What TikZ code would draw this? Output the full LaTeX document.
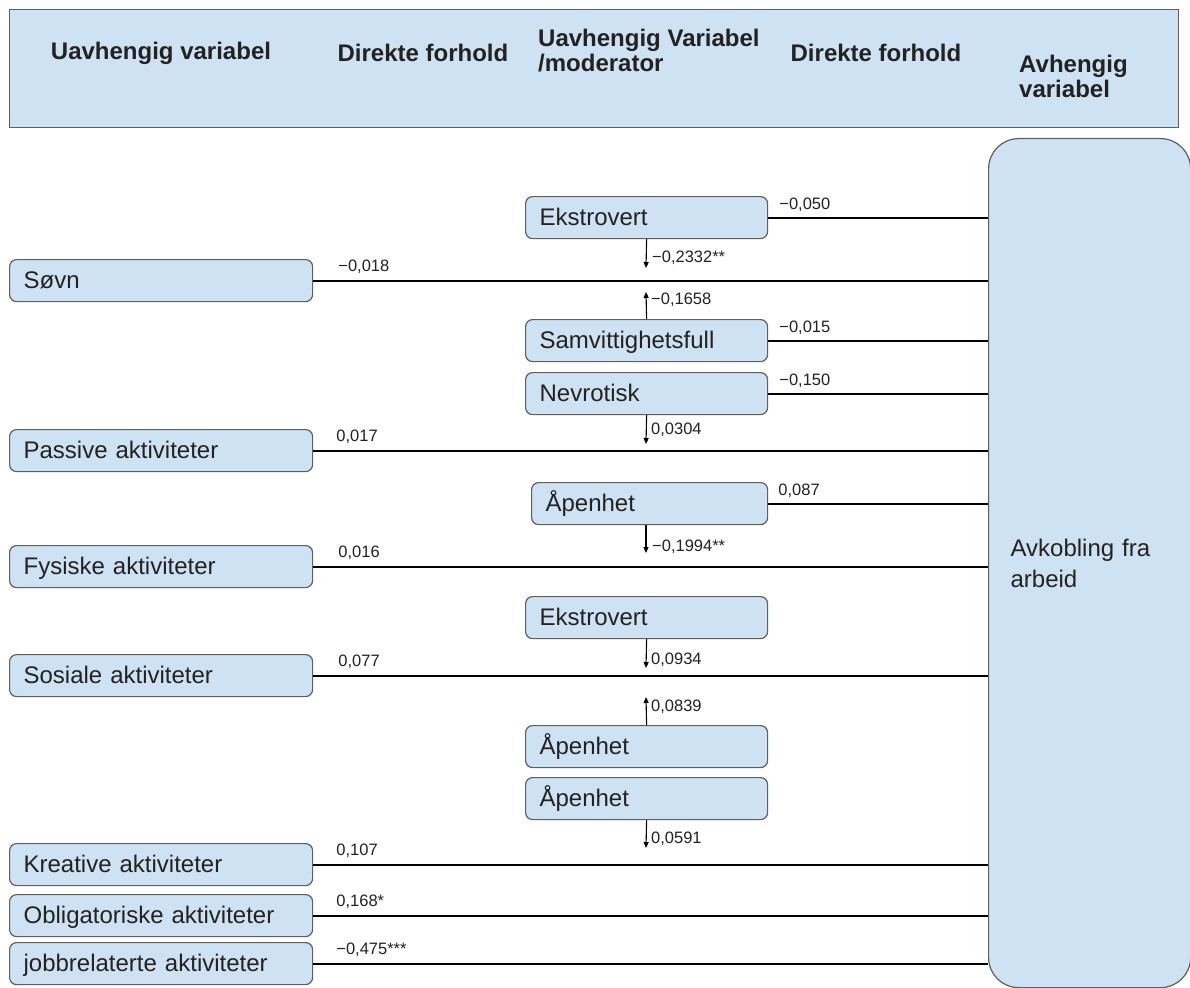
\documentclass[tikz,border=0pt]{standalone}
\usepackage{fontspec}
\setmainfont{Liberation Sans}
\usetikzlibrary{arrows.meta,calc}
\definecolor{boxblue}{HTML}{CFE2F3}
\definecolor{edge}{HTML}{5F5F5F}
\definecolor{ink}{HTML}{222222}
\begin{document}
\begin{tikzpicture}[x=1pt,y=-1pt,
  hdr/.style={draw=edge, fill=boxblue, line width=1.2pt, anchor=north west, inner sep=0pt},
  htxt/.style={font=\bfseries\fontsize{24}{25}\selectfont, text=ink, inner sep=0pt},
  vbox/.style={draw=edge, fill=boxblue, line width=1.2pt, rounded corners=7pt,
    anchor=north west, minimum height=42pt, inner xsep=14pt, inner ysep=0pt,
    text width=#1, align=left, font=\fontsize{24}{25}\selectfont, text=ink,
    text height=19pt, text depth=3pt},
  bigbox/.style={draw=edge, fill=boxblue, line width=1.2pt, rounded corners=30pt,
    anchor=north west, minimum height=849pt, inner xsep=22pt, text width=158pt,
    align=left, font=\fontsize{24}{31}\selectfont, text=ink},
  conn/.style={line width=2pt, draw=black},
  arr/.style={line width=1.1pt, draw=black, -{Triangle[length=6pt,width=5pt]}},
  lab/.style={font=\fontsize{16.5}{18}\selectfont, text=ink, inner sep=0pt, anchor=base west}
]
\useasboundingbox (0,0) rectangle (1190,987);

% header
\node[hdr, minimum width=1169pt, minimum height=118pt] (head) at (9,9) {};
\node[htxt] (h1) at (161,53) {Uavhengig variabel};
\node[htxt] (h2) at (423,53) {Direkte forhold};
\node[htxt, anchor=west, align=left] (h3) at (538,51) {Uavhengig Variabel\\/moderator};
\node[htxt] (h4) at (876,53) {Direkte forhold};
\node[htxt, anchor=west, align=left] (h5) at (1019,76) {Avhengig\\variabel};

% dependent variable
\node[bigbox] (dep) at (988,138) {Avkobling fra\\arbeid};

% independent variables
\node[vbox=275pt] (sovn) at (9,259) {Søvn};
\node[vbox=275pt] (pass) at (9,429) {Passive aktiviteter};
\node[vbox=275pt] (fys) at (9,545) {Fysiske aktiviteter};
\node[vbox=275pt] (sos) at (9,654) {Sosiale aktiviteter};
\node[vbox=275pt] (krea) at (9,843) {Kreative aktiviteter};
\node[vbox=275pt] (obl) at (9,894) {Obligatoriske aktiviteter};
\node[vbox=275pt] (jobb) at (9,942) {jobbrelaterte aktiviteter};

% moderators
\node[vbox=214pt] (ek1) at (525,196) {Ekstrovert};
\node[vbox=214pt] (samv) at (525,319) {Samvittighetsfull};
\node[vbox=214pt] (nevr) at (525,372) {Nevrotisk};
\node[vbox=208pt] (ap1) at (531,482) {Åpenhet};
\node[vbox=214pt] (ek2) at (525,596) {Ekstrovert};
\node[vbox=214pt] (ap2) at (525,725) {Åpenhet};
\node[vbox=214pt] (ap3) at (525,777) {Åpenhet};

% direct connections
\foreach \a in {sovn,pass,fys,sos,krea,obl,jobb,ek1,samv,nevr,ap1}
  \draw[conn] (\a.east) -- (\a.east -| dep.west);

% left labels
\node[lab] (l1) at ($(sovn.east)+(25,-9)$) {−0,018};
\node[lab] (l2) at ($(pass.east)+(23,-9)$) {0,017};
\node[lab] (l3) at ($(fys.east)+(25,-9)$) {0,016};
\node[lab] (l4) at ($(sos.east)+(25,-9)$) {0,077};
\node[lab] (l5) at ($(krea.east)+(23,-9)$) {0,107};
\node[lab] (l6) at ($(obl.east)+(23,-9)$) {0,168*};
\node[lab] (l7) at ($(jobb.east)+(23,-9)$) {−0,475***};

% right labels
\node[lab] (r1) at ($(ek1.east)+(11,-8)$) {−0,050};
\node[lab] (r2) at ($(samv.east)+(11,-8)$) {−0,015};
\node[lab] (r3) at ($(nevr.east)+(11,-8)$) {−0,150};
\node[lab] (r4) at ($(ap1.east)+(10,-8)$) {0,087};

% moderation arrows
\coordinate (a1) at (646,268);
\coordinate (a2) at (646,292);
\coordinate (a3) at (646,444);
\coordinate (a4) at (646,553);
\coordinate (a5) at (646,668);
\coordinate (a6) at (646,697);
\coordinate (a7) at (646,848);
\draw[arr] (ek1.south) -- (a1);
\draw[arr] (samv.north) -- (a2);
\draw[arr] (nevr.south) -- (a3);
\draw[arr] (ap1.south -| a4) -- (a4);
\draw[arr] (ek2.south) -- (a5);
\draw[arr] (ap2.north) -- (a6);
\draw[arr] (ap3.south) -- (a7);

\node[lab] (m1) at (652,262) {−0,2332**};
\node[lab] (m2) at (651,304) {−0,1658};
\node[lab] (m3) at (651,434) {0,0304};
\node[lab] (m4) at (652,551) {−0,1994**};
\node[lab] (m5) at (651,664) {0,0934};
\node[lab] (m6) at (651,711) {0,0839};
\node[lab] (m7) at (651,843) {0,0591};
\end{tikzpicture}
\end{document}
